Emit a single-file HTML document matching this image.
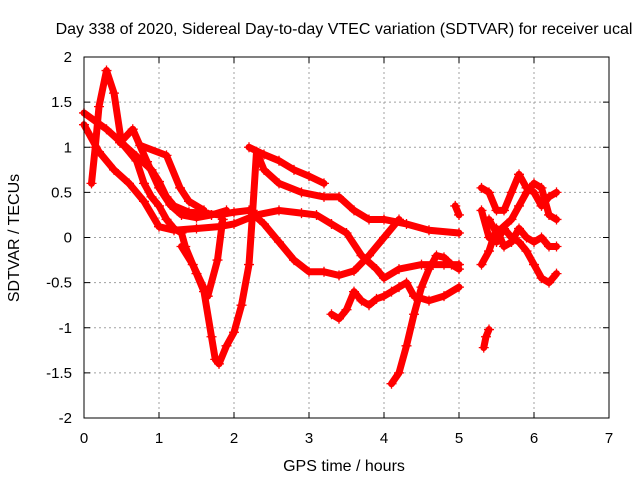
<!DOCTYPE html>
<html><head><meta charset="utf-8"><style>
body{margin:0;background:#fff}
svg{display:block;font-family:"Liberation Sans",sans-serif}
</style></head><body>
<svg id="c" width="640" height="480">
<text x="344" y="34" font-size="16" text-anchor="middle">Day 338 of 2020, Sidereal Day-to-day VTEC variation (SDTVAR) for receiver ucal</text>
<text x="344" y="471" font-size="16" text-anchor="middle">GPS time / hours</text>
<text x="19" y="238" font-size="16" text-anchor="middle" transform="rotate(-90 19 238)">SDTVAR / TECUs</text>
<g id="grid"></g><g id="marks"></g>
<rect x="84" y="57" width="525" height="361" fill="none" stroke="#000"/>
</svg>
<script>
const xTicks=[0,1,2,3,4,5,6,7];
const yTicks=[2,1.5,1,0.5,0,-0.5,-1,-1.5,-2];
const yTickLabels=["2","1.5","1","0.5","0","-0.5","-1","-1.5","-2"];
const track1=[[0,1.38],[0.3,1.2],[0.5,1.05],[0.7,0.9],[0.9,0.75],[1,0.62],[1.1,0.45],[1.2,0.35],[1.4,0.28],[1.6,0.27],[1.8,0.25],[2,0.28],[2.2,0.3],[2.4,0.15],[2.6,-0.05],[2.8,-0.25],[3,-0.38],[3.2,-0.38],[3.4,-0.42],[3.6,-0.37],[3.8,-0.2],[4,0],[4.2,0.2]];
const track2=[[0,1.25],[0.2,0.95],[0.4,0.75],[0.6,0.6],[0.8,0.4],[1,0.12],[1.2,0.08],[1.5,0.1],[1.8,0.12],[2,0.15],[2.3,0.25],[2.6,0.3],[2.9,0.27],[3.1,0.25],[3.3,0.15],[3.5,0.05],[3.7,-0.2],[3.9,-0.35],[4,-0.45],[4.2,-0.35],[4.5,-0.3],[4.8,-0.3],[5,-0.3]];
const track3=[[0.1,0.6],[0.15,1.0],[0.2,1.45],[0.3,1.85],[0.4,1.6],[0.5,1.05],[0.7,0.85],[0.8,0.6],[0.9,0.45],[1,0.35],[1.1,0.2],[1.2,0.1],[1.3,0.05],[1.35,-0.1],[1.5,-0.4],[1.6,-0.6],[1.7,-1.1],[1.75,-1.35],[1.8,-1.4],[1.9,-1.2],[2,-1.05],[2.1,-0.75],[2.2,-0.3],[2.25,0.3],[2.3,0.95],[2.4,0.75],[2.6,0.6],[2.9,0.5],[3.2,0.45],[3.4,0.45],[3.6,0.3],[3.8,0.2],[4,0.2],[4.3,0.15],[4.6,0.08],[5,0.05]];
const track4=[[2.2,1.0],[2.4,0.92],[2.6,0.85],[2.8,0.75],[3,0.68],[3.2,0.6]];
const track5=[[0.48,1.05],[0.65,1.2],[0.84,0.84],[1,0.55],[1.15,0.36],[1.3,0.25],[1.5,0.22],[1.7,0.25],[1.9,0.3]];
const track6=[[1.3,-0.1],[1.45,-0.3],[1.65,-0.65],[1.78,-0.25],[1.85,0.2]];
const track7=[[0.75,1.02],[1.1,0.91],[1.28,0.55],[1.4,0.4],[1.6,0.3]];
const track8=[[3.3,-0.85],[3.4,-0.9],[3.5,-0.8],[3.6,-0.6],[3.7,-0.7],[3.8,-0.75],[3.9,-0.68],[4,-0.65],[4.1,-0.6],[4.2,-0.55],[4.3,-0.5],[4.4,-0.65],[4.6,-0.7],[4.8,-0.65],[5,-0.55]];
const track9=[[4.1,-1.62],[4.2,-1.5],[4.3,-1.2],[4.4,-0.85],[4.5,-0.55],[4.6,-0.35],[4.7,-0.2],[4.8,-0.22],[4.9,-0.3],[5,-0.35]];
const track10=[[5.3,0.55],[5.4,0.5],[5.5,0.3],[5.6,0.3],[5.7,0.5],[5.8,0.7],[5.9,0.55],[6,0.5],[6.1,0.35],[6.2,0.45],[6.3,0.5]];
const track11=[[5.3,0.3],[5.4,0],[5.5,-0.05],[5.6,0.1],[5.7,0],[5.8,-0.05],[5.9,-0.15],[6,-0.3],[6.1,-0.45],[6.2,-0.5],[6.3,-0.4]];
const track12=[[5.4,0.2],[5.5,0.05],[5.7,0.2],[5.8,0.35],[5.9,0.5],[6,0.6],[6.1,0.55],[6.2,0.25],[6.3,0.2]];
const track13=[[5.3,-0.3],[5.4,-0.15],[5.5,0.1],[5.6,-0.1],[5.7,-0.05],[5.8,0.1],[5.9,0],[6,-0.05],[6.1,0],[6.2,-0.1],[6.3,-0.1]];
const track14=[[5.33,-1.22],[5.36,-1.1],[5.4,-1.02]];
const track15=[[4.95,0.35],[5,0.25]];
const tracks=[track1,track2,track3,track4,track5,track6,track7,track8,track9,track10,track11,track12,track13,track14,track15];
const NS="http://www.w3.org/2000/svg";
function X(t){return 84+t*75;}
function Y(v){return 237.5-v*90.25;}
const grid=document.getElementById('grid'),marks=document.getElementById('marks'),svg=document.getElementById('c');
function mk(tag,attrs,parent){const e=document.createElementNS(NS,tag);for(const k in attrs)e.setAttribute(k,attrs[k]);parent.appendChild(e);return e;}
xTicks.forEach((t,i)=>{
  const x=X(t);
  if(i>0&&i<xTicks.length-1){const g=mk('line',{x1:x,x2:x,y1:57,y2:418,stroke:'#a0a0a0','stroke-dasharray':'2,3'},grid);
  
  }
  mk('line',{x1:x,x2:x,y1:418,y2:412,stroke:'#000'},grid);
  mk('line',{x1:x,x2:x,y1:57,y2:63,stroke:'#000'},grid);
  const l=mk('text',{x:x,y:443,'font-size':15,'text-anchor':'middle'},svg);l.textContent=t;
  
  
});
yTicks.forEach((v,i)=>{
  const y=Y(v);
  if(i>0&&i<yTicks.length-1){const g=mk('line',{x1:84,x2:609,y1:y,y2:y,stroke:'#a0a0a0','stroke-dasharray':'2,3'},grid);
  
  }
  mk('line',{x1:84,x2:90,y1:y,y2:y,stroke:'#000'},grid);
  mk('line',{x1:603,x2:609,y1:y,y2:y,stroke:'#000'},grid);
  const l=mk('text',{x:72,y:y+5,'font-size':15,'text-anchor':'end'},svg);l.textContent=yTickLabels[i];
  
  
});
tracks.forEach((tr,i)=>{
  const g=mk('g',{},marks);
  
  
  const p=mk('polyline',{points:tr.map(d=>X(d[0])+','+Y(d[1])).join(' '),fill:'none',stroke:'#f00','stroke-width':7,'stroke-linejoin':'round','stroke-linecap':'round'},g);
  
  
  tr.forEach(d=>{
    const x=X(d[0]),y=Y(d[1]);
    const m=mk('path',{d:`M${x-5},${y}H${x+5}M${x},${y-5}V${y+5}`,stroke:'#f00','stroke-width':1.3},g);
    
    
  });
});
</script>
</body></html>
